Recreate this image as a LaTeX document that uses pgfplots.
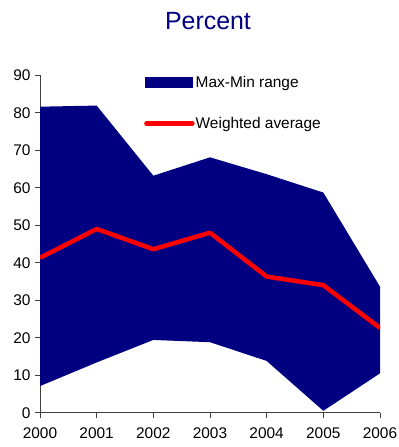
\documentclass[border=0pt]{standalone}
\usepackage{fontspec}
\setmainfont{Liberation Sans}
\usepackage{pgfplots}
\pgfplotsset{compat=1.18}
\usepgfplotslibrary{fillbetween}
\definecolor{navyc}{HTML}{000080}
\definecolor{redc}{HTML}{FF0000}
\definecolor{axc}{HTML}{404040}
\begin{document}
\begin{tikzpicture}
\begin{axis}[
  name=ax,
  scale only axis,
  width=340bp, height=337.5bp,
  xmin=2000, xmax=2006, ymin=0, ymax=90,
  axis x line*=bottom, axis y line*=left,
  axis line style={axc, line width=0.8bp},
  xtick={2000,...,2006}, ytick={0,10,...,90},
  tick align=outside, major tick length=5bp,
  tick style={axc, line width=0.8bp},
  x tick label style={/pgf/number format/1000 sep={}, yshift=-6bp},
  y tick label style={xshift=-1bp},
  /pgf/number format/assume math mode=true,
  ticklabel style={font=\fontsize{15.5}{18}\selectfont},
  legend style={draw=none, fill=none, at={(axis cs:2000,90)}, anchor=north west,
    xshift=101bp, yshift=2bp, row sep=26bp,
    font=\fontsize{15.5}{18}\selectfont,
    nodes={inner sep=1bp}},
  legend cell align=left,
]
\addplot[name path=max, draw=none, forget plot] coordinates {
(2000,81.6) (2001,81.9) (2002,63.2) (2003,68.1) (2004,63.6) (2005,58.7) (2006,33.6)};
\addplot[name path=min, draw=none, forget plot] coordinates {
(2000,7.1) (2001,13.4) (2002,19.4) (2003,18.8) (2004,13.8) (2005,0.5) (2006,10.5)};
\addplot[fill=navyc, draw=none, legend image code/.code={\fill[navyc] (0bp,-5.5bp) rectangle (48bp,5.5bp);}] fill between[of=max and min];
\addlegendentry{Max-Min range}
\addplot[redc, line width=4.5bp, line join=round, legend image code/.code={\draw[redc, line width=4.5bp, line cap=round] (1bp,0bp) -- (47bp,0bp);}] coordinates {
(2000,41.3) (2001,49.0) (2002,43.6) (2003,48.0) (2004,36.3) (2005,34.0) (2006,22.6)};
\addlegendentry{Weighted average}
\end{axis}
\node[text=navyc, font=\fontsize{25}{30}\selectfont, anchor=base, xshift=-2bp, yshift=46bp] at (ax.north) {Percent};
\pgfresetboundingbox
\path[use as bounding box] (-40bp,-34.3bp) rectangle (359bp,412.7bp);
\end{tikzpicture}
\end{document}
